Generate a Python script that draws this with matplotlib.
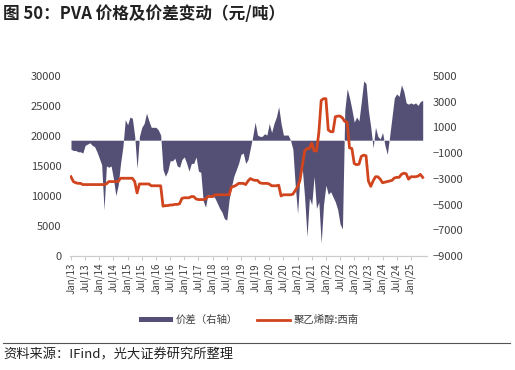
import matplotlib.pyplot as plt
from matplotlib.patches import Patch
from matplotlib.lines import Line2D

plt.rcParams['font.family'] = ['Noto Sans CJK SC', 'DejaVu Sans']

# monthly points, Jan 2013 .. Jun 2025
start_year = 2013
n_months = 150

# 价差 (right axis), yuan/ton
spread = [
    -700, -800, -800, -900, -900, -1000, -400, -300, -200, -400,
    -500, -900, -1400, -1900, -5400, -2000, -2100, -2000, -3000, -4300,
    -3500, -1800, -500, 1600, 1200, 1800, 1700, 300, -2200, 300,
    1000, 1300, 2100, 1500, 1000, 1000, 1000, 800, 400, -2300,
    -2800, -2400, -1600, -1600, -1400, -2000, -2100, -1500, -1300, -1800,
    -2400, -1800, -1800, -1300, -2400, -2500, -4700, -5200, -4200, -4300,
    -4300, -4500, -4900, -5300, -5600, -6100, -6200, -4600, -3600, -2800,
    -2300, -1800, -1100, -1000, -1800, -1500, -600, 300, 1400, 400,
    300, 300, 500, 400, 1300, 600, 1300, 1800, 2600, 1300,
    400, 400, 400, 0, -700, -3500, -5700, -2800, -2200, -4500,
    -7500, -4500, -5000, -2800, -5300, -4800, -8000, -5000, -3500, -4200,
    -4000, -4400, -4800, -5400, -6500, -6900, 2300, 4000, 3300, 2400,
    1400, 1800, 1500, 3000, 4600, 4400, 2300, 1000, -600, 1000,
    300, 100, 600, -400, -1100, 300, 1800, 3300, 3600, 3400,
    4300, 3800, 2900, 2800, 2900, 2800, 2900, 2700, 3000, 3100,
]

# 聚乙烯醇:西南 (left axis), yuan/ton
pva_sw = [
    13200, 12400, 12200, 12100, 12100, 11900, 11900, 11900, 11900, 11900,
    11900, 11900, 11900, 11900, 11900, 12000, 12400, 12400, 12400, 12400,
    12400, 12950, 12950, 12950, 12950, 12950, 12950, 12400, 10500, 12000,
    12000, 12000, 12000, 12000, 11700, 11700, 11700, 11700, 11700, 8300,
    8400, 8400, 8500, 8500, 8600, 8600, 8700, 9600, 9700, 9700,
    9700, 9900, 9900, 9500, 9400, 9400, 9400, 9500, 9900, 9900,
    9900, 10200, 10200, 10200, 10200, 10200, 10200, 10200, 11500, 11600,
    11800, 12100, 12100, 12100, 11900, 12500, 12900, 12700, 12600, 12600,
    12200, 12100, 12100, 12100, 12000, 11700, 11700, 11700, 11800, 10000,
    10200, 10200, 10200, 10200, 10300, 10900, 11500, 12600, 15000, 17500,
    17900, 17900, 18800, 17500, 17500, 20500, 25900, 26200, 26200, 21000,
    20700, 20700, 23200, 23300, 23300, 23000, 22400, 22300, 18000, 17900,
    15400, 15200, 15300, 16600, 16800, 16700, 12500, 11600, 12500, 13200,
    13200, 12800, 12200, 12300, 12400, 12500, 12600, 13000, 13100, 13100,
    13600, 13800, 13700, 12800, 13200, 13200, 13200, 13300, 13600, 13100,
]

months = list(range(n_months))
tick_pos = list(range(0, 145, 6))
tick_labels = [('Jan' if p % 12 == 0 else 'Jul') + '/' + str((start_year + p // 12) % 100)
               for p in tick_pos]

purple = '#534F75'
red = '#D0451E'
txt = '#404040'

fig = plt.figure(figsize=(5.15, 3.7), dpi=100)
ax = fig.add_axes([0.136, 0.308, 0.693, 0.487])
ax2 = ax.twinx()
ax.set_zorder(ax2.get_zorder() + 1)
ax.patch.set_visible(False)

ax2.fill_between(months, 0, spread, color=purple, linewidth=0)
ax.plot(months, pva_sw, color=red, linewidth=2.0)

ax.set_xlim(-0.4, 150.8)
ax.set_ylim(0, 30000)
ax2.set_ylim(-9000, 5000)
ax.set_yticks(range(0, 30001, 5000))
ax2.set_yticks(range(-9000, 5001, 2000))
ax.set_xticks(tick_pos)
ax.set_xticklabels(tick_labels, rotation=90, fontsize=7, color=txt)

for a in (ax, ax2):
    for s in ('top', 'left', 'right'):
        a.spines[s].set_visible(False)
    a.spines['bottom'].set_color('#cccccc')
ax.tick_params(axis='y', length=0, pad=6, labelsize=8, labelcolor=txt)
ax2.tick_params(axis='y', length=0, pad=4, labelsize=8, labelcolor=txt)
ax.tick_params(axis='x', length=3, color='#cccccc', pad=2)

handles = [Patch(facecolor=purple, edgecolor='none'),
           Line2D([0], [0], color=red, linewidth=2)]
fig.legend(handles, ['价差（右轴）', '聚乙烯醇:西南'], loc='center',
           bbox_to_anchor=(0.483, 0.135), ncol=2, frameon=False,
           fontsize=7.5, handlelength=3.2, handleheight=0.45,
           columnspacing=1.8, handletextpad=0.3, labelcolor=txt)

fig.text(0.006, 0.962, '图 50：PVA 价格及价差变动（元/吨）', fontsize=12,
         fontweight='bold', va='center', ha='left', color='#222222')
fig.add_artist(Line2D([0.006, 0.99], [0.073, 0.073], color='#555555', linewidth=0.8))
fig.text(0.006, 0.04, '资料来源：IFind，光大证券研究所整理', fontsize=9.5,
         va='center', ha='left', color='#222222')

fig.savefig('out.png', dpi=100)
